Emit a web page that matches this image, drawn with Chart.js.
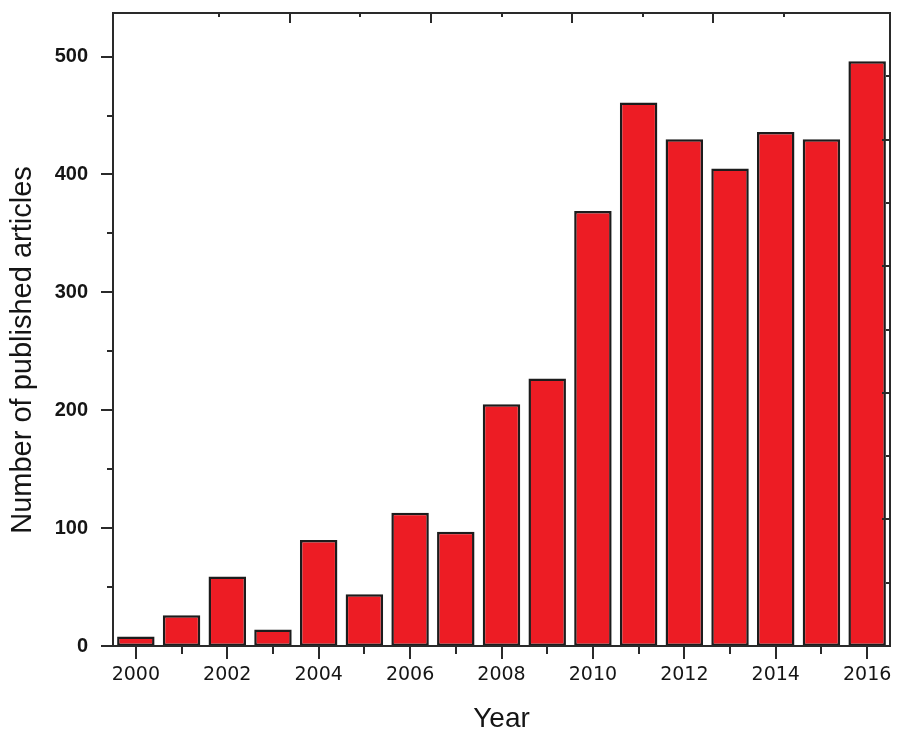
<!DOCTYPE html>
<html>
<head>
<meta charset="utf-8">
<script src="https://cdn.jsdelivr.net/npm/chart.js@4.4.1/dist/chart.umd.min.js"></script>
<style>
  html, body { margin: 0; padding: 0; background: #ffffff; }
  #wrap { width: 901px; height: 733px; position: relative; }
</style>
</head>
<body>
<div id="wrap"><canvas id="c"></canvas></div>
<script>
const years = ['2000','2001','2002','2003','2004','2005','2006','2007','2008','2009','2010','2011','2012','2013','2014','2015','2016'];
const articles = [8, 26, 59, 14, 90, 44, 113, 97, 205, 227, 369, 461, 430, 405, 436, 430, 496];
const yTicks = [0, 100, 200, 300, 400, 500];
const yMinorStep = 50;
const yMax = 537;
const xTitle = 'Year';
const yTitle = 'Number of published articles';

const TEXT = '#151515';
const AXIS = '#2a2a2a';

function fixBox(w, h) {
  return function(s) {
    if (w !== null) s.width = w;
    if (h !== null) s.height = h;
    s.paddingTop = 0; s.paddingBottom = 0; s.paddingLeft = 0; s.paddingRight = 0;
  };
}

const framePlugin = {
  id: 'frameTicks',
  afterDatasetsDraw(chart) {
    const ctx = chart.ctx;
    const a = chart.chartArea;
    const x = chart.scales.x, y = chart.scales.y, x2 = chart.scales.x2, y2 = chart.scales.y2;
    ctx.save();
    ctx.strokeStyle = AXIS;
    ctx.lineWidth = 2;
    ctx.lineCap = 'butt';
    ctx.strokeRect(a.left, a.top, a.right - a.left, a.bottom - a.top);
    ctx.beginPath();
    for (let v = 0; v <= yTicks[yTicks.length - 1]; v += yMinorStep) {
      const py = Math.round(y.getPixelForValue(v));
      const len = (v % 100 === 0) ? 12 : 6;
      ctx.moveTo(a.left - len, py); ctx.lineTo(a.left, py);
    }
    years.forEach((yr, i) => {
      const px = Math.round(x.getPixelForValue(i));
      const len = (i % 2 === 0) ? 13 : 8;
      ctx.moveTo(px, a.bottom); ctx.lineTo(px, a.bottom + len);
    });
    for (let v = 0.5; v < 5; v += 0.5) {
      const px = Math.round(x2.getPixelForValue(v));
      const len = (v % 1 === 0) ? 10 : 4;
      ctx.moveTo(px, a.top); ctx.lineTo(px, a.top + len);
    }
    for (let v = 0.5; v < 5; v += 0.5) {
      const py = Math.round(y2.getPixelForValue(v));
      const len = (v % 1 === 0) ? 8 : 4;
      ctx.moveTo(a.right, py); ctx.lineTo(a.right - len, py);
    }
    ctx.stroke();

    // rotated y-axis title
    ctx.translate(23, 350);
    ctx.rotate(-Math.PI / 2);
    ctx.fillStyle = TEXT;
    ctx.font = '29px "Liberation Sans", Arial, sans-serif';
    ctx.textAlign = 'center';
    ctx.textBaseline = 'middle';
    ctx.fillText(yTitle, 0, 0);
    ctx.restore();
  }
};

new Chart(document.getElementById('c'), {
  type: 'bar',
  data: {
    labels: years,
    datasets: [{
      data: articles,
      backgroundColor: '#ED1C24',
      borderColor: '#1c1c1c',
      borderWidth: 2.5,
      borderSkipped: false,
      barPercentage: 0.82,
      categoryPercentage: 1.0
    }]
  },
  options: {
    responsive: true,
    maintainAspectRatio: false,
    animation: false,
    layout: { padding: 0 },
    plugins: { legend: { display: false }, tooltip: { enabled: false } },
    scales: {
      x: {
        type: 'category',
        position: 'bottom',
        offset: true,
        grid: { display: false, drawTicks: false },
        border: { display: false },
        ticks: {
          autoSkip: false, maxRotation: 0, minRotation: 0,
          padding: 18,
          color: TEXT,
          font: { family: 'DejaVu Sans', size: 19 },
          callback: function(val, idx) { return idx % 2 === 0 ? years[idx] : ''; }
        },
        title: {
          display: true, text: xTitle, color: TEXT,
          font: { family: 'Liberation Sans', size: 28, lineHeight: 1 },
          padding: { top: 0, bottom: 0 }
        },
        afterFit: fixBox(null, 87)
      },
      x2: {
        type: 'linear', position: 'top', min: 0, max: 5,
        grid: { display: false, drawTicks: false },
        border: { display: false },
        ticks: { display: false },
        afterFit: fixBox(null, 13)
      },
      y: {
        type: 'linear', position: 'left', min: 0, max: yMax,
        grid: { display: false, drawTicks: false },
        border: { display: false },
        afterBuildTicks(s) { s.ticks = yTicks.map(v => ({ value: v })); },
        ticks: {
          padding: 25,
          color: TEXT,
          font: { family: 'Liberation Sans', size: 20, weight: 'bold' }
        },
        title: { display: false },
        afterFit: fixBox(113, null)
      },
      y2: {
        type: 'linear', position: 'right', min: 0, max: 5,
        grid: { display: false, drawTicks: false },
        border: { display: false },
        ticks: { display: false },
        afterFit: fixBox(11, null)
      }
    }
  },
  plugins: [framePlugin]
});
</script>
</body>
</html>
